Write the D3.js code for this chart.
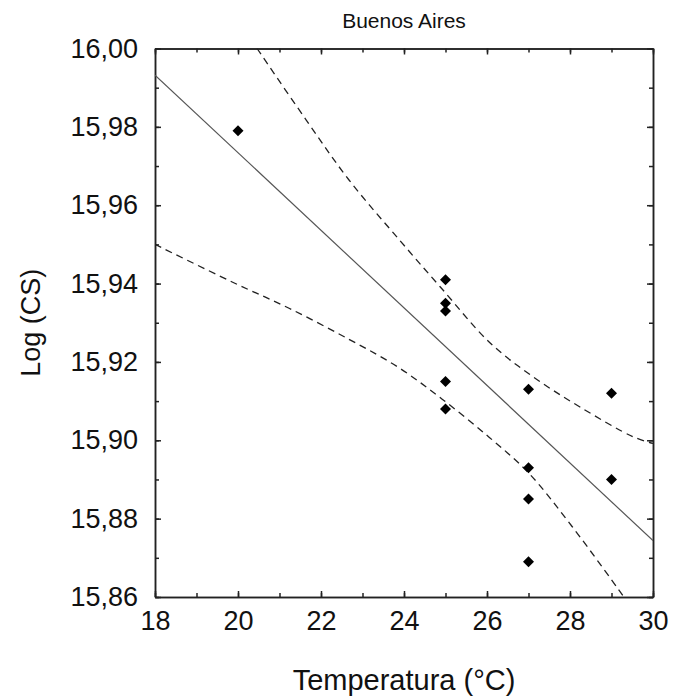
<!DOCTYPE html>
<html>
<head>
<meta charset="utf-8">
<script src="https://cdn.jsdelivr.net/npm/d3@7"></script>
<style>
  body { margin: 0; background: #fff; }
  text { font-family: "Liberation Sans", Arial, sans-serif; fill: #111; }
</style>
</head>
<body>
<div id="graphDiv"></div>
<script>
// observed points
var tempX = [20, 25, 25, 25, 25, 25, 27, 27, 27, 27, 29, 29];
var logCS = [15.979, 15.941, 15.935, 15.933, 15.915, 15.908, 15.913, 15.893, 15.885, 15.869, 15.912, 15.890];

var fitX = [18, 30];
var fitY = [15.9932, 15.8744];

// confidence bands
var upperX = [20.46, 21.64, 22.67, 23.9, 24.87, 26.07, 27.11, 28.24, 29.52, 30];
var upperY = [16.000, 15.9818, 15.9665, 15.951, 15.9392, 15.9249, 15.9162, 15.9085, 15.9009, 15.8992];
var lowerX = [18, 19.86, 21.23, 22.67, 23.88, 24.92, 26.05, 27.0, 28.05, 29.3];
var lowerY = [15.950, 15.9404, 15.9337, 15.9258, 15.9185, 15.9105, 15.9008, 15.8917, 15.878, 15.860];

var xTicks = [18, 20, 22, 24, 26, 28, 30];
var yTicks = [15.86, 15.88, 15.90, 15.92, 15.94, 15.96, 15.98, 16.00];

var W = 687, H = 699;
var pLeft = 155, pRight = 653, pTop = 48.5, pBottom = 597;

var svg = d3.select("#graphDiv").append("svg")
    .attr("width", W).attr("height", H);

var xScale = d3.scaleLinear().domain([18, 30]).range([pLeft, pRight]);
var yScale = d3.scaleLinear().domain([15.86, 16.00]).range([pBottom, pTop]);

var fmt = function (d) { return d3.format(".2f")(d).replace(".", ","); };

// clip for lines
svg.append("clipPath").attr("id", "plot")
    .append("rect").attr("x", pLeft).attr("y", pTop)
    .attr("width", pRight - pLeft).attr("height", pBottom - pTop);

var minorX = d3.range(18, 30.01, 1);
var minorY = d3.range(0, 15).map(function (i) { return 15.86 + i * 0.01; });

// axes: bottom & left with labels, top & right without; ticks point inward
svg.append("g").attr("class", "x axis")
    .attr("transform", "translate(0," + pBottom + ")")
    .call(d3.axisBottom(xScale).tickValues(minorX).tickSize(-4).tickSizeOuter(0).tickFormat(""));
svg.append("g").attr("class", "x axis lab")
    .attr("transform", "translate(0," + pBottom + ")")
    .call(d3.axisBottom(xScale).tickValues(xTicks).tickSize(-6).tickSizeOuter(0).tickPadding(14).tickFormat(d3.format("d")));
svg.append("g").attr("class", "x axis")
    .attr("transform", "translate(0," + pTop + ")")
    .call(d3.axisTop(xScale).tickValues(minorX).tickSize(-4).tickSizeOuter(0).tickFormat(""));
svg.append("g").attr("class", "x axis")
    .attr("transform", "translate(0," + pTop + ")")
    .call(d3.axisTop(xScale).tickValues(xTicks).tickSize(-6).tickSizeOuter(0).tickFormat(""));

svg.append("g").attr("class", "y axis")
    .attr("transform", "translate(" + pLeft + ",0)")
    .call(d3.axisLeft(yScale).tickValues(minorY).tickSize(-4).tickSizeOuter(0).tickFormat(""));
svg.append("g").attr("class", "y axis lab")
    .attr("transform", "translate(" + pLeft + ",0)")
    .call(d3.axisLeft(yScale).tickValues(yTicks).tickSize(-6).tickSizeOuter(0).tickPadding(17).tickFormat(fmt));
svg.append("g").attr("class", "y axis")
    .attr("transform", "translate(" + pRight + ",0)")
    .call(d3.axisRight(yScale).tickValues(minorY).tickSize(-4).tickSizeOuter(0).tickFormat(""));
svg.append("g").attr("class", "y axis")
    .attr("transform", "translate(" + pRight + ",0)")
    .call(d3.axisRight(yScale).tickValues(yTicks).tickSize(-6).tickSizeOuter(0).tickFormat(""));

svg.selectAll(".axis").selectAll("line,path").attr("stroke", "#222").attr("stroke-width", 1.5);
svg.selectAll(".axis.lab").attr("font-size", 27).attr("font-family", null);
svg.selectAll(".axis text").attr("fill", "#111");

var lineFunc = d3.line()
    .x(function (d) { return xScale(d[0]); })
    .y(function (d) { return yScale(d[1]); });
var lines = svg.append("g").attr("clip-path", "url(#plot)");

lines.append("path")
    .attr("d", lineFunc(d3.zip(fitX, fitY)))
    .attr("fill", "none").attr("stroke", "#555").attr("stroke-width", 1.2);

var band = d3.line().curve(d3.curveCatmullRom)
    .x(function (d) { return xScale(d[0]); })
    .y(function (d) { return yScale(d[1]); });
[d3.zip(upperX, upperY), d3.zip(lowerX, lowerY)].forEach(function (b) {
    lines.append("path")
        .attr("d", band(b))
        .attr("fill", "none").attr("stroke", "#222").attr("stroke-width", 1.3)
        .attr("stroke-dasharray", "7,5");
});

// diamonds
svg.append("g").selectAll("path.pt")
    .data(d3.zip(tempX, logCS))
    .enter().append("path")
    .attr("class", "pt")
    .attr("transform", function (d) { return "translate(" + xScale(d[0]) + "," + yScale(d[1]) + ")"; })
    .attr("d", "M0,-5.5L5.5,0L0,5.5L-5.5,0Z")
    .attr("fill", "#000");

// titles
svg.append("text")
    .attr("x", (pLeft + pRight) / 2).attr("y", 28)
    .attr("text-anchor", "middle").attr("font-size", 21)
    .text("Buenos Aires");

svg.append("text")
    .attr("x", (pLeft + pRight) / 2).attr("y", 690)
    .attr("text-anchor", "middle").attr("font-size", 29)
    .text("Temperatura (°C)");

svg.append("text")
    .attr("transform", "translate(40," + ((pTop + pBottom) / 2) + ") rotate(-90)")
    .attr("text-anchor", "middle").attr("font-size", 27)
    .text("Log (CS)");
</script>
</body>
</html>
